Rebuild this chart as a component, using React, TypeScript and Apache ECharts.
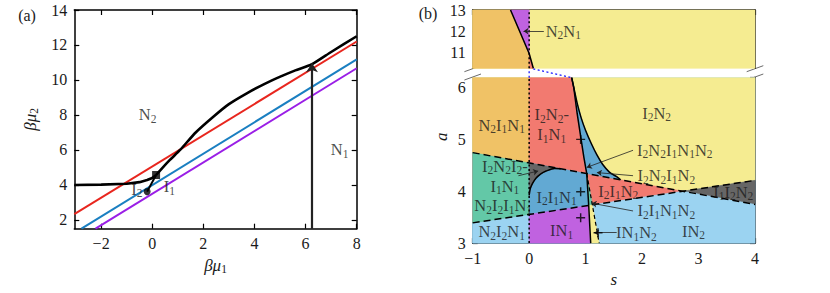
import React, { useEffect, useRef } from 'react';
import * as echarts from 'echarts';

const FONT = 'Liberation Serif';
const TXT = '#1a1a1a';

// ---------------- panel (a) ----------------
const aXTicks = [-2, 0, 2, 4, 6, 8];
const aYTicks = [2, 4, 6, 8, 10, 12, 14];
const redLine = [[-3.05, 2.33], [8, 12.2]];
const blueLine = [[-2.77, 1.5], [8, 11.18]];
const purpleLine = [[-2.22, 1.5], [8, 10.67]];
const blackLeft = [[-3.05, 4.0], [-2, 4.02], [-1, 4.07], [-0.5, 4.16], [-0.2, 4.28], [0.0, 4.4], [0.15, 4.57]];
const blackRight = [[0.15, 4.57], [0.4, 4.98], [0.69, 5.43], [1.09, 6.0], [1.7, 7.0], [2.39, 7.9], [3.0, 8.62], [3.7, 9.24], [4.4, 9.78], [5.01, 10.19], [5.6, 10.55], [6.25, 10.9], [7.0, 11.6], [8, 12.5]];
const blackStub = [[-0.2, 3.62], [0.15, 4.57]];
const squarePts = [[0.15, 4.57]];
const circlePts = [[-0.2, 3.62]];
const verticalArrow = [[6.25, 1.5], [6.25, 10.95]];
const aLabels: [number, number, string][] = [
  [-0.18, 8.0, 'N{d|2}'],
  [7.33, 6.0, 'N{d|1}'],
  [-0.6, 3.75, 'I{d|2}'],
  [0.67, 3.9, 'I{d|1}'],
];

// ---------------- panel (b) ----------------
const upperTicks = [11, 12, 13];
const lowerRange = [3, 6.19];
const upperRange = [10.25, 13];
const dashA = [[-1, 4.745], [4, 3.745]];
const dashB = [[-1, 3.39], [4, 4.21]];
const steep1 = [[0.753, 6.19], [0.79, 6.0], [0.85, 5.5], [0.92, 5.0], [0.97, 4.65], [1.02, 4.34], [1.055, 3.72], [1.09, 3.0]];
const steep2End = [1.24, 3.0];
const curveC = [[0.753, 6.19], [0.795, 5.98], [0.85, 5.7], [0.92, 5.42], [1.0, 5.17], [1.1, 4.92], [1.2, 4.7], [1.3, 4.52], [1.42, 4.37], [1.55, 4.28], [1.62, 4.221]];
const semiCurve = [[0, 3.92], [0.02, 4.05], [0.06, 4.15], [0.12, 4.25], [0.2, 4.33], [0.3, 4.39], [0.45, 4.44], [0.56, 4.433]];
const lineT = [[-0.33, 13], [0, 10.95], [0.073, 10.25]];
const connSlant = [[0.073, 6.36], [0.753, 6.19]];
const connVert = [[0, 6.19], [0, 6.36]];
const plusPts = [[0.912, 5.0], [0.912, 3.99], [0.912, 3.49], [1.22, 3.2]];
const upperLabels: [number, number, string][] = [[0.605, 12.0, 'N{d|2}N{d|1}']];
const lowerLabels: [number, number, string][] = [
  [-0.487, 5.27, 'N{d|2}I{d|1}N{d|1}'],
  [0.4, 5.28, 'I{d|2}N{d|2}-\nI{d|1}N{d|1}'],
  [2.258, 5.5, 'I{d|2}N{d|2}'],
  [2.58, 4.79, 'I{d|2}N{d|2}I{d|1}N{d|1}N{d|2}'],
  [2.43, 4.3, 'I{d|2}N{d|2}I{d|1}N{d|2}'],
  [1.578, 4.0, 'I{d|2}I{d|1}N{d|2}'],
  [3.615, 3.98, 'I{d|1}I{d|2}N{d|2}'],
  [2.43, 3.62, 'I{d|2}I{d|1}N{d|1}N{d|2}'],
  [2.91, 3.23, 'IN{d|2}'],
  [1.9, 3.2, 'IN{d|1}N{d|2}'],
  [0.576, 3.24, 'IN{d|1}'],
  [-0.487, 3.22, 'N{d|2}I{d|2}N{d|1}'],
  [-0.46, 3.72, 'N{d|2}I{d|2}I{d|1}N{d|1}'],
  [-0.43, 4.285, 'I{d|2}N{d|2}I{d|2}-\nI{d|1}N{d|1}'],
  [0.487, 3.88, 'I{d|2}I{d|1}N{d|1}'],
];
const upperArrows = [[[0.26, 12.0], [-0.1, 12.0]]];
const lowerArrows = [
  [[-0.19, 4.3], [0.16, 4.39]],
  [[1.84, 4.79], [1.02, 4.46]],
  [[1.84, 4.3], [1.2, 4.36]],
  [[1.84, 3.62], [1.107, 3.77]],
  [[1.55, 3.2], [1.15, 3.2]],
];

const C_ORANGE = '#f0c266';
const C_YELLOW = '#f5ec91';
const C_RED = '#f27a70';
const C_BLUE = '#62a9d3';
const C_LBLUE = '#9bd3f1';
const C_GREEN = '#63c8a7';
const C_GRAY = '#666666';
const C_PURPLE = '#c062e0';

function lerp(L: number[][], s: number) {
  const [[x0, y0], [x1, y1]] = L;
  return y0 + ((s - x0) * (y1 - y0)) / (x1 - x0);
}
function polyCross(poly: number[][], L: number[][]) {
  for (let i = 0; i < poly.length - 1; i++) {
    const p = poly[i], q = poly[i + 1];
    const dp = p[1] - lerp(L, p[0]);
    const dq = q[1] - lerp(L, q[0]);
    if (dp >= 0 && dq < 0) {
      const t = dp / (dp - dq);
      return { i, p: [p[0] + t * (q[0] - p[0]), p[1] + t * (q[1] - p[1])] };
    }
  }
  return { i: poly.length - 2, p: poly[poly.length - 1] };
}
function lineCross(L1: number[][], L2: number[][]) {
  const m1 = (L1[1][1] - L1[0][1]) / (L1[1][0] - L1[0][0]);
  const c1 = L1[0][1] - m1 * L1[0][0];
  const m2 = (L2[1][1] - L2[0][1]) / (L2[1][0] - L2[0][0]);
  const c2 = L2[0][1] - m2 * L2[0][0];
  const s = (c2 - c1) / (m1 - m2);
  return [s, m1 * s + c1];
}

function buildRegions() {
  const [lo, hi] = lowerRange;
  const A = (s: number) => [s, lerp(dashA, s)];
  const B = (s: number) => [s, lerp(dashB, s)];
  const X = lineCross(dashA, dashB);
  const cA = polyCross(steep1, dashA);
  const cB = polyCross(steep1, dashB);
  const s1Above = [...steep1.slice(0, cA.i + 1), cA.p];
  const s1Mid = [cA.p, ...steep1.slice(cA.i + 1, cB.i + 1), cB.p];
  const s1Below = [cB.p, ...steep1.slice(cB.i + 1)];
  const steep2 = [cA.p, steep2End];
  const c2B = polyCross(steep2, dashB).p;
  const cEnd = curveC[curveC.length - 1];
  const lower = [
    { c: C_LBLUE, p: [[-1, lo], [4, lo], [4, hi], [-1, hi]] },
    { c: C_YELLOW, p: [[-1, hi], [4, hi], B(4), X, A(-1)] },
    { c: C_RED, p: [A(-1), X, B(-1)] },
    { c: C_GRAY, p: [X, B(4), A(4)] },
    { c: C_LBLUE, p: [B(-1), X, A(4), [4, lo], [-1, lo]] },
    { c: C_ORANGE, p: [[-1, hi], [0, hi], A(0), A(-1)] },
    { c: C_GREEN, p: [A(-1), A(0), B(0), B(-1)] },
    { c: C_RED, p: [[0, hi], ...s1Above, A(0)] },
    { c: C_BLUE, p: [A(0), ...s1Mid, B(0)] },
    { c: C_PURPLE, p: [B(0), ...s1Below, [0, lo]] },
    { c: C_GRAY, p: [A(0), ...semiCurve] },
    { c: C_BLUE, p: [...s1Above, A(cEnd[0]), ...curveC.slice(0, -1).reverse()] },
    { c: C_GREEN, p: [...s1Mid, c2B] },
    { c: C_YELLOW, p: [...s1Below, steep2End, c2B] },
  ];
  const [ulo, uhi] = upperRange;
  const upper = [
    { c: C_YELLOW, p: [[-1, ulo], [4, ulo], [4, uhi], [-1, uhi]] },
    { c: C_ORANGE, p: [[-1, uhi], ...lineT, [-1, ulo]] },
    { c: C_PURPLE, p: [lineT[0], [0, uhi], lineT[1]] },
    { c: C_RED, p: [lineT[1], lineT[2], [0, ulo]] },
  ];
  return { lower, upper, steep2 };
}

const fmt = (v: number) => (v < 0 ? '\u2212' + Math.abs(v) : String(v));
const rich = {
  d: { fontFamily: FONT, fontSize: 11.5, color: TXT, verticalAlign: 'bottom', padding: [8, 0, 0, 0] },
  i: { fontFamily: FONT, fontSize: 17, color: TXT, fontStyle: 'italic' },
};
const axisLine = { show: true, onZero: false, lineStyle: { color: '#000', width: 1.5 } };
const tick = (vals?: number[]) => ({ show: true, inside: true, length: 5, lineStyle: { color: '#000', width: 1.2 }, ...(vals ? { customValues: vals } : {}) });
const lab = (show: boolean, vals?: number[]) => ({ show, fontFamily: FONT, fontSize: 16, color: TXT, margin: 7, formatter: fmt, ...(vals ? { customValues: vals } : {}) });

function regionSeries(regs: { c: string; p: number[][] }[], xi: number, yi: number, y0: number) {
  return {
    type: 'custom',
    xAxisIndex: xi,
    yAxisIndex: yi,
    silent: true,
    z: 1,
    data: regs.map(() => [0, y0]),
    renderItem: (params: any, api: any) => {
      const r = regs[params.dataIndex];
      return {
        type: 'polygon',
        shape: { points: r.p.map((pt) => api.coord(pt)) },
        style: { fill: r.c, stroke: r.c, lineWidth: 0.6 },
      };
    },
  };
}
function lineS(data: number[][], xi: number, yi: number, color: string, width: number, type: any = 'solid', extra: any = {}) {
  return {
    type: 'line', xAxisIndex: xi, yAxisIndex: yi, data, symbol: 'none', silent: true, z: 3,
    lineStyle: { color, width, type }, ...extra,
  };
}
function labelS(items: [number, number, string][], xi: number, yi: number) {
  return {
    type: 'scatter', xAxisIndex: xi, yAxisIndex: yi, symbolSize: 0, silent: true, z: 6,
    data: items.map((it) => ({ value: [it[0], it[1]], name: it[2] })),
    label: {
      show: true, position: 'inside', formatter: (p: any) => p.name,
      fontFamily: FONT, fontSize: 16.5, color: TXT, align: 'center', rich,
    },
  };
}
function arrowS(items: number[][][], xi: number, yi: number, size: any, width: number) {
  return {
    type: 'lines', coordinateSystem: 'cartesian2d', xAxisIndex: xi, yAxisIndex: yi, silent: true, z: 5,
    symbol: ['none', 'arrow'], symbolSize: size,
    lineStyle: { color: '#222', width, opacity: 1 },
    data: items.map((c) => ({ coords: c })),
  };
}

function buildOption() {
  const { lower, upper, steep2 } = buildRegions();
  return {
    animation: false,
    grid: [
      { left: 74.3, top: 10, width: 282.4, height: 218.7 },
      { left: 472.7, top: 10, width: 282.3, height: 58.3 },
      { left: 472.7, top: 77.7, width: 282.3, height: 175 },
    ],
    xAxis: [
      { type: 'value', gridIndex: 0, position: 'bottom', min: -3.05, max: 8, axisLine, axisTick: tick(aXTicks), axisLabel: lab(true, aXTicks), splitLine: { show: false },
        name: '{i|βμ}{d|1}', nameLocation: 'middle', nameGap: 24, nameTextStyle: { fontFamily: FONT, fontSize: 17, color: TXT, rich } },
      { type: 'value', gridIndex: 0, position: 'top', min: -3.05, max: 8, axisLine, axisTick: tick(aXTicks), axisLabel: lab(false, aXTicks), splitLine: { show: false } },
      { type: 'value', gridIndex: 1, position: 'top', min: -1, max: 4, interval: 1, axisLine, axisTick: tick(), axisLabel: lab(false), splitLine: { show: false } },
      { type: 'value', gridIndex: 2, position: 'bottom', min: -1, max: 4, interval: 1, axisLine, axisTick: tick(), axisLabel: lab(true), splitLine: { show: false },
        name: '{i|s}', nameLocation: 'middle', nameGap: 14, nameTextStyle: { fontFamily: FONT, fontSize: 17, color: TXT, rich } },
    ],
    yAxis: [
      { type: 'value', gridIndex: 0, position: 'left', min: 1.5, max: 14, axisLine, axisTick: tick(aYTicks), axisLabel: lab(true, aYTicks), splitLine: { show: false },
        name: '{i|βμ}{d|2}', nameLocation: 'middle', nameGap: 34, nameRotate: 90, nameTextStyle: { fontFamily: FONT, fontSize: 17, color: TXT, rich } },
      { type: 'value', gridIndex: 0, position: 'right', min: 1.5, max: 14, axisLine, axisTick: tick(aYTicks), axisLabel: lab(false, aYTicks), splitLine: { show: false } },
      { type: 'value', gridIndex: 1, position: 'left', min: upperRange[0], max: upperRange[1], axisLine, axisTick: tick(upperTicks), axisLabel: lab(true, upperTicks), splitLine: { show: false } },
      { type: 'value', gridIndex: 1, position: 'right', min: upperRange[0], max: upperRange[1], axisLine, axisTick: tick(upperTicks), axisLabel: lab(false, upperTicks), splitLine: { show: false } },
      { type: 'value', gridIndex: 2, position: 'left', min: lowerRange[0], max: lowerRange[1], interval: 1, axisLine, axisTick: tick(), axisLabel: lab(true), splitLine: { show: false } },
      { type: 'value', gridIndex: 2, position: 'right', min: lowerRange[0], max: lowerRange[1], interval: 1, axisLine, axisTick: tick(), axisLabel: lab(false), splitLine: { show: false } },
    ],
    graphic: [
      { type: 'text', x: 27, y: 15, style: { text: '(a)', fontFamily: FONT, fontSize: 16, fill: TXT, align: 'center', verticalAlign: 'middle' } },
      { type: 'text', x: 428, y: 13, style: { text: '(b)', fontFamily: FONT, fontSize: 16, fill: TXT, align: 'center', verticalAlign: 'middle' } },
      { type: 'text', x: 441.7, y: 136.7, rotation: Math.PI / 2, style: { text: 'a', fontFamily: FONT, fontSize: 17, fontStyle: 'italic', fill: TXT, align: 'center', verticalAlign: 'middle' } },
      { type: 'line', shape: { x1: 464.4, y1: 71.7, x2: 481, y2: 65.7 }, style: { stroke: '#444', lineWidth: 0.8 } },
      { type: 'line', shape: { x1: 464.4, y1: 80, x2: 481, y2: 74 }, style: { stroke: '#444', lineWidth: 0.8 } },
      { type: 'line', shape: { x1: 746.7, y1: 71.7, x2: 763.3, y2: 65.7 }, style: { stroke: '#444', lineWidth: 0.8 } },
      { type: 'line', shape: { x1: 746.7, y1: 80, x2: 763.3, y2: 74 }, style: { stroke: '#444', lineWidth: 0.8 } },
    ],
    series: [
      // panel (a)
      lineS(redLine, 0, 0, '#e8261e', 2),
      lineS(blueLine, 0, 0, '#1a7fc1', 2),
      lineS(purpleLine, 0, 0, '#9a1ee6', 2),
      lineS(blackLeft, 0, 0, '#000', 2.6),
      lineS(blackRight, 0, 0, '#000', 2.6, 'solid', { smooth: 0.2 }),
      lineS(blackStub, 0, 0, '#000', 2),
      arrowS([verticalArrow], 0, 0, [7, 9], 2.2),
      { type: 'scatter', xAxisIndex: 0, yAxisIndex: 0, data: squarePts, symbol: 'rect', symbolSize: 8, itemStyle: { color: '#000' }, silent: true, z: 5 },
      { type: 'scatter', xAxisIndex: 0, yAxisIndex: 0, data: circlePts, symbol: 'circle', symbolSize: 7, itemStyle: { color: '#000' }, silent: true, z: 5 },
      labelS(aLabels, 0, 0),
      // panel (b) upper
      regionSeries(upper, 2, 2, 12),
      lineS(lineT, 2, 2, '#000', 1.5),
      lineS([[0, upperRange[0]], [0, upperRange[1]]], 2, 2, '#000', 1.5, [2, 2.5]),
      arrowS(upperArrows, 2, 2, 5, 0.8),
      labelS(upperLabels, 2, 2),
      // panel (b) lower
      regionSeries(lower, 3, 4, 4),
      lineS([[0, lowerRange[0]], [0, lowerRange[1]]], 3, 4, '#000', 1.5, [2, 2.5]),
      lineS(dashA, 3, 4, '#000', 1.5, [7, 4]),
      lineS(dashB, 3, 4, '#000', 1.5, [7, 4]),
      lineS(steep1, 3, 4, '#000', 1.5),
      lineS(steep2, 3, 4, '#000', 1.2, [4, 3]),
      lineS(curveC, 3, 4, '#000', 1.5, 'solid', { smooth: 0.3 }),
      lineS(semiCurve, 3, 4, '#000', 1.5, 'solid', { smooth: 0.3 }),
      lineS(connSlant, 3, 4, '#1a1aff', 1.3, [2, 2.5], { clip: false }),
      lineS(connVert, 3, 4, '#1a1aff', 1.3, [2, 2.5], { clip: false }),
      arrowS(lowerArrows, 3, 4, 5, 0.8),
      { type: 'scatter', xAxisIndex: 3, yAxisIndex: 4, data: plusPts, symbol: 'path://M4.2,0H5.8V4.2H10V5.8H5.8V10H4.2V5.8H0V4.2H4.2Z', symbolSize: 9, itemStyle: { color: '#000' }, silent: true, z: 5 },
      labelS(lowerLabels, 3, 4),
    ],
  };
}

export default function App() {
  const ref = useRef<HTMLDivElement>(null);
  useEffect(() => {
    if (!ref.current) return;
    const chart = echarts.init(ref.current, undefined, { renderer: 'svg' });
    chart.setOption(buildOption() as any);
    return () => chart.dispose();
  }, []);
  return <div ref={ref} style={{ width: 830, height: 293, position: 'absolute', left: 0, top: 0 }} />;
}
